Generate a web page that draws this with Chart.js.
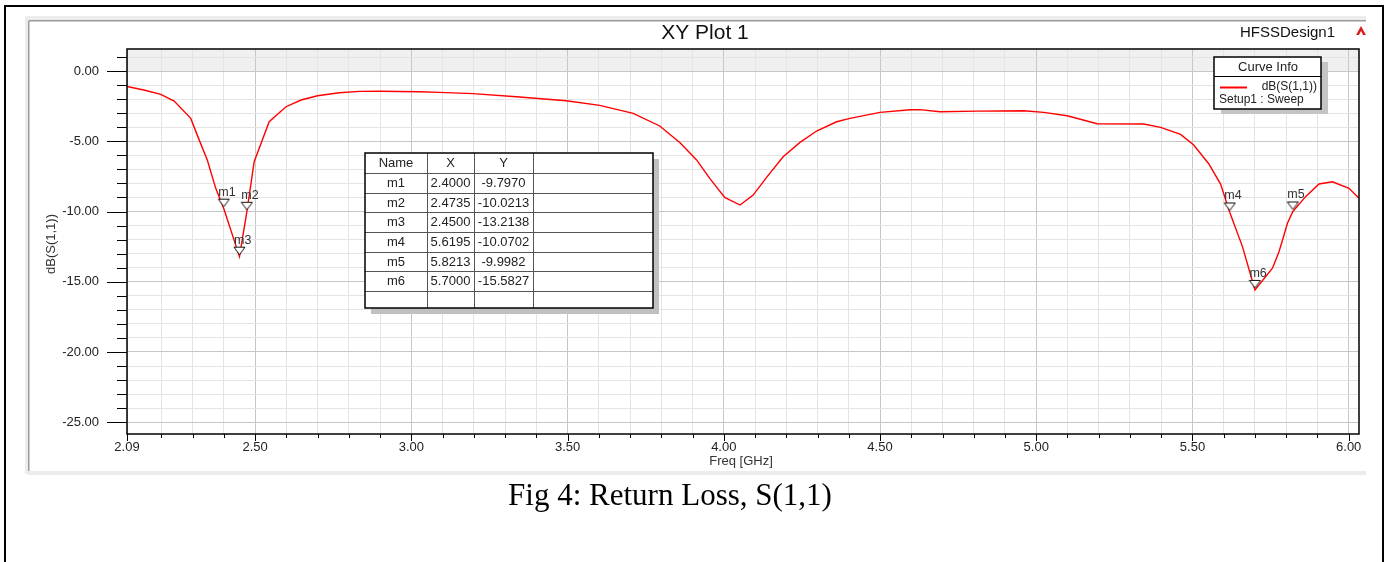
<!DOCTYPE html>
<html>
<head>
<meta charset="utf-8">
<script src="https://cdn.jsdelivr.net/npm/chart.js@4.4.1/dist/chart.umd.min.js"></script>
<style>
html,body{margin:0;padding:0;background:#fff;}
#wrap{position:relative;width:1392px;height:562px;overflow:hidden;}
canvas{display:block;}
</style>
</head>
<body>
<div id="wrap"><canvas id="c" width="1392" height="562"></canvas></div>
<script>
// ---- data ----
const freqGHz = [2.090, 2.144, 2.198, 2.241, 2.294, 2.321, 2.347, 2.374, 2.400, 2.450, 2.4735, 2.497,
  2.545, 2.599, 2.647, 2.700, 2.769, 2.834, 2.900, 2.962, 3.026, 3.090, 3.197, 3.336, 3.496, 3.603,
  3.710, 3.795, 3.860, 3.913, 3.955, 4.003, 4.052, 4.094, 4.137, 4.190, 4.244, 4.297, 4.361, 4.404,
  4.500, 4.596, 4.628, 4.692, 4.810, 4.960, 5.024, 5.099, 5.195, 5.344, 5.398, 5.462, 5.504, 5.552,
  5.590, 5.6195, 5.660, 5.700, 5.756, 5.777, 5.804, 5.8213, 5.862, 5.905, 5.948, 6.001, 6.033];
const s11dB = [-1.10, -1.35, -1.66, -2.14, -3.37, -4.90, -6.34, -8.35, -9.797, -13.2138, -10.0213, -6.45,
  -3.61, -2.54, -2.06, -1.76, -1.54, -1.45, -1.44, -1.46, -1.47, -1.52, -1.61, -1.83, -2.11, -2.44,
  -3.01, -3.91, -5.10, -6.33, -7.64, -8.99, -9.54, -8.83, -7.57, -6.10, -5.08, -4.27, -3.61, -3.37,
  -2.94, -2.75, -2.75, -2.90, -2.85, -2.83, -2.94, -3.18, -3.75, -3.77, -4.01, -4.51, -5.27, -6.60,
  -8.05, -10.0702, -12.50, -15.5827, -14.04, -12.86, -10.84, -9.9982, -8.94, -8.04, -7.88, -8.35, -9.06];

const markerNames = ['m1', 'm2', 'm3', 'm4', 'm5', 'm6'];
const markerX = [2.4000, 2.4735, 2.4500, 5.6195, 5.8213, 5.7000];
const markerY = [-9.7970, -10.0213, -13.2138, -10.0702, -9.9982, -15.5827];

const xTickValues = [2.09, 2.2, 2.3, 2.4, 2.5, 2.6, 2.7, 2.8, 2.9, 3.0, 3.1, 3.2, 3.3, 3.4, 3.5, 3.6, 3.7,
  3.8, 3.9, 4.0, 4.1, 4.2, 4.3, 4.4, 4.5, 4.6, 4.7, 4.8, 4.9, 5.0, 5.1, 5.2, 5.3, 5.4, 5.5, 5.6, 5.7,
  5.8, 5.9, 6.0];
const xTickLabels = ['2.09', '2.50', '3.00', '3.50', '4.00', '4.50', '5.00', '5.50', '6.00'];
const yTickValues = [1, 0, -1, -2, -3, -4, -5, -6, -7, -8, -9, -10, -11, -12, -13, -14, -15, -16, -17,
  -18, -19, -20, -21, -22, -23, -24, -25];
const yTickLabels = ['0.00', '-5.00', '-10.00', '-15.00', '-20.00', '-25.00'];

const X_MIN = 2.09, X_MAX = 6.033, Y_MIN = -25.84, Y_MAX = 1.57;
const SANS = '"Liberation Sans", Arial, sans-serif';
const SERIF = '"Liberation Serif", "Times New Roman", serif';

function xLabel(v) {
  const l = xTickLabels.find(s => Math.abs(parseFloat(s) - v) < 1e-6);
  return l === undefined ? '' : l;
}
function yLabel(v) {
  const l = yTickLabels.find(s => Math.abs(parseFloat(s) - v) < 1e-6);
  return l === undefined ? '' : l;
}

// marker glyph: downward triangle whose tip sits 2px above the point
const markerImg = (() => {
  const c = document.createElement('canvas');
  c.width = 13; c.height = 22;
  const g = c.getContext('2d');
  g.fillStyle = '#ffffff';
  g.strokeStyle = '#111111';
  g.lineWidth = 1;
  g.beginPath();
  g.moveTo(1, 1.5); g.lineTo(12, 1.5); g.lineTo(6.5, 9); g.closePath();
  g.fill(); g.stroke();
  return c;
})();

const decor = {
  id: 'decor',
  beforeDraw(chart) {
    const ctx = chart.ctx, a = chart.chartArea, y = chart.scales.y;
    ctx.save();
    ctx.fillStyle = '#ffffff';
    ctx.fillRect(0, 0, chart.width, chart.height);
    // HFSS window frame
    ctx.fillStyle = '#ececec';
    ctx.fillRect(25, 16, 1341, 4);
    ctx.fillRect(25, 16, 3, 458);
    ctx.fillRect(28, 471, 1338, 4);
    ctx.strokeStyle = '#9a9a9a';
    ctx.lineWidth = 1.5;
    ctx.beginPath();
    ctx.moveTo(28.75, 20.75); ctx.lineTo(1366, 20.75);
    ctx.moveTo(28.75, 20.75); ctx.lineTo(28.75, 471);
    ctx.stroke();
    // shaded band above 0 dB
    const yTop = y.getPixelForValue(Y_MAX), y0 = y.getPixelForValue(0);
    ctx.fillStyle = '#f0f0f0';
    ctx.fillRect(a.left, yTop, a.right - a.left, y0 - yTop);
    ctx.restore();
  },
  afterDatasetsDraw(chart) {
    const ctx = chart.ctx;
    const meta = chart.getDatasetMeta(0);
    ctx.save();
    ctx.font = '12.5px ' + SANS;
    ctx.fillStyle = '#333';
    ctx.textAlign = 'left';
    ctx.textBaseline = 'alphabetic';
    meta.data.forEach((pt, i) => {
      ctx.fillText(markerNames[i], pt.x - 5.5, pt.y - 13);
    });
    ctx.restore();
  },
  afterDraw(chart) {
    const ctx = chart.ctx, a = chart.chartArea, xs = chart.scales.x, ys = chart.scales.y;
    ctx.save();
    // plot frame
    ctx.strokeStyle = '#000';
    ctx.lineWidth = 1.5;
    ctx.strokeRect(a.left, a.top, a.right - a.left, a.bottom - a.top);
    // tick marks
    ctx.lineWidth = 1;
    ctx.beginPath();
    yTickValues.forEach(v => {
      const p = Math.round(ys.getPixelForValue(v)) + 0.5;
      const len = yLabel(v) ? 20 : 10;
      ctx.moveTo(a.left - len, p); ctx.lineTo(a.left, p);
    });
    xTickValues.forEach(v => {
      const p = Math.round(xs.getPixelForValue(v)) + 0.5;
      const len = xLabel(v) ? 7 : 4;
      ctx.moveTo(p, a.bottom); ctx.lineTo(p, a.bottom + len);
    });
    ctx.stroke();

    // axis titles
    ctx.fillStyle = '#333';
    ctx.font = '13px ' + SANS;
    ctx.textAlign = 'center';
    ctx.textBaseline = 'middle';
    ctx.fillText('Freq [GHz]', 741, 461);
    ctx.save();
    ctx.translate(51, 244);
    ctx.rotate(-Math.PI / 2);
    ctx.fillText('dB(S(1,1))', 0, 0);
    ctx.restore();

    // plot title and design name
    ctx.fillStyle = '#111';
    ctx.font = '21px ' + SANS;
    ctx.fillText('XY Plot 1', 705, 33);
    ctx.font = '15px ' + SANS;
    ctx.textAlign = 'right';
    ctx.fillText('HFSSDesign1', 1335, 33);

    // small red logo
    ctx.fillStyle = '#d42020';
    ctx.beginPath();
    ctx.moveTo(1361, 26); ctx.lineTo(1366, 35); ctx.lineTo(1356, 35); ctx.closePath();
    ctx.fill();
    ctx.fillStyle = '#fff';
    ctx.beginPath();
    ctx.moveTo(1361, 31); ctx.lineTo(1363, 35); ctx.lineTo(1359, 35); ctx.closePath();
    ctx.fill();

    // legend (Curve Info)
    ctx.fillStyle = '#c4c4c4';
    ctx.fillRect(1221, 62, 107, 52);
    ctx.fillStyle = '#fff';
    ctx.fillRect(1214, 57, 107, 52);
    ctx.strokeStyle = '#000';
    ctx.lineWidth = 1.5;
    ctx.strokeRect(1214, 57, 107, 52);
    ctx.lineWidth = 1;
    ctx.beginPath(); ctx.moveTo(1214, 76.5); ctx.lineTo(1321, 76.5); ctx.stroke();
    ctx.fillStyle = '#222';
    ctx.font = '13px ' + SANS;
    ctx.textAlign = 'center';
    ctx.fillText('Curve Info', 1268, 67.5);
    ctx.strokeStyle = '#ff0000';
    ctx.lineWidth = 2;
    ctx.beginPath(); ctx.moveTo(1220, 87.5); ctx.lineTo(1247, 87.5); ctx.stroke();
    ctx.font = '12px ' + SANS;
    ctx.textAlign = 'right';
    ctx.fillText('dB(S(1,1))', 1317, 87);
    ctx.textAlign = 'left';
    ctx.fillText('Setup1 : Sweep', 1219, 100);

    // marker table
    const tx = 365, ty = 153, tw = 288, th = 155, hh = 20, rh = 19.67;
    const cols = [427, 474, 533];
    ctx.fillStyle = '#c0c0c0';
    ctx.fillRect(tx + 6, ty + 6, tw, th);
    ctx.fillStyle = '#fff';
    ctx.fillRect(tx, ty, tw, th);
    ctx.strokeStyle = '#555';
    ctx.lineWidth = 1;
    ctx.beginPath();
    cols.forEach(c => { ctx.moveTo(c + 0.5, ty); ctx.lineTo(c + 0.5, ty + th); });
    for (let i = 0; i <= markerNames.length; i++) {
      const yy = Math.round(ty + hh + i * rh) + 0.5;
      ctx.moveTo(tx, yy); ctx.lineTo(tx + tw, yy);
    }
    ctx.stroke();
    ctx.strokeStyle = '#000';
    ctx.lineWidth = 1.5;
    ctx.strokeRect(tx, ty, tw, th);
    ctx.fillStyle = '#222';
    ctx.font = '13px ' + SANS;
    ctx.textAlign = 'center';
    ctx.textBaseline = 'middle';
    const cx = [(tx + cols[0]) / 2, (cols[0] + cols[1]) / 2, (cols[1] + cols[2]) / 2];
    ctx.fillText('Name', cx[0], ty + hh / 2 + 0.5);
    ctx.fillText('X', cx[1], ty + hh / 2 + 0.5);
    ctx.fillText('Y', cx[2], ty + hh / 2 + 0.5);
    markerNames.forEach((n, i) => {
      const yy = ty + hh + rh * (i + 0.5) + 0.5;
      ctx.fillText(n, cx[0], yy);
      ctx.fillText(markerX[i].toFixed(4), cx[1], yy);
      ctx.fillText(markerY[i].toFixed(4), cx[2], yy);
    });

    // outer figure border
    ctx.strokeStyle = '#000';
    ctx.lineWidth = 2;
    ctx.strokeRect(5, 6, 1378, 620);

    // caption
    ctx.fillStyle = '#000';
    ctx.font = '31px ' + SERIF;
    ctx.textAlign = 'center';
    ctx.textBaseline = 'middle';
    ctx.fillText('Fig 4: Return Loss, S(1,1)', 670, 497);
    ctx.restore();
  }
};

new Chart(document.getElementById('c'), {
  type: 'line',
  data: {
    datasets: [
      {
        label: 'markers',
        data: markerX.map((x, i) => ({ x: x, y: markerY[i] })),
        showLine: false,
        pointStyle: markerImg,
        pointRadius: 6,
        order: 0
      },
      {
        label: 'dB(S(1,1))',
        data: freqGHz.map((f, i) => ({ x: f, y: s11dB[i] })),
        borderColor: '#ff0000',
        borderWidth: 1.4,
        pointRadius: 0,
        tension: 0,
        fill: false,
        order: 1
      }
    ]
  },
  options: {
    responsive: false,
    animation: false,
    layout: { padding: { left: 0, top: 49, right: 33, bottom: 0 } },
    plugins: { legend: { display: false }, tooltip: { enabled: false }, title: { display: false } },
    scales: {
      x: {
        type: 'linear', min: X_MIN, max: X_MAX,
        afterBuildTicks: s => { s.ticks = xTickValues.map(v => ({ value: v })); },
        afterFit: s => { s.height = 128; },
        ticks: { autoSkip: false, maxRotation: 0, minRotation: 0, padding: 6, color: '#222',
          font: { family: SANS, size: 13 }, callback: v => xLabel(v) },
        grid: { drawTicks: false, lineWidth: 1,
          color: c => (c.tick && xLabel(c.tick.value)) ? '#c6c6c6' : '#e4e4e4' },
        border: { display: false }
      },
      y: {
        type: 'linear', min: Y_MIN, max: Y_MAX,
        afterBuildTicks: s => { s.ticks = yTickValues.map(v => ({ value: v })); },
        afterFit: s => { s.width = 127; },
        ticks: { autoSkip: false, padding: 28, color: '#222',
          font: { family: SANS, size: 13 }, callback: v => yLabel(v) },
        grid: { drawTicks: false, lineWidth: 1,
          color: c => (c.tick && yLabel(c.tick.value)) ? '#c6c6c6' : '#e4e4e4' },
        border: { display: false }
      }
    }
  },
  plugins: [decor]
});
</script>
</body>
</html>
